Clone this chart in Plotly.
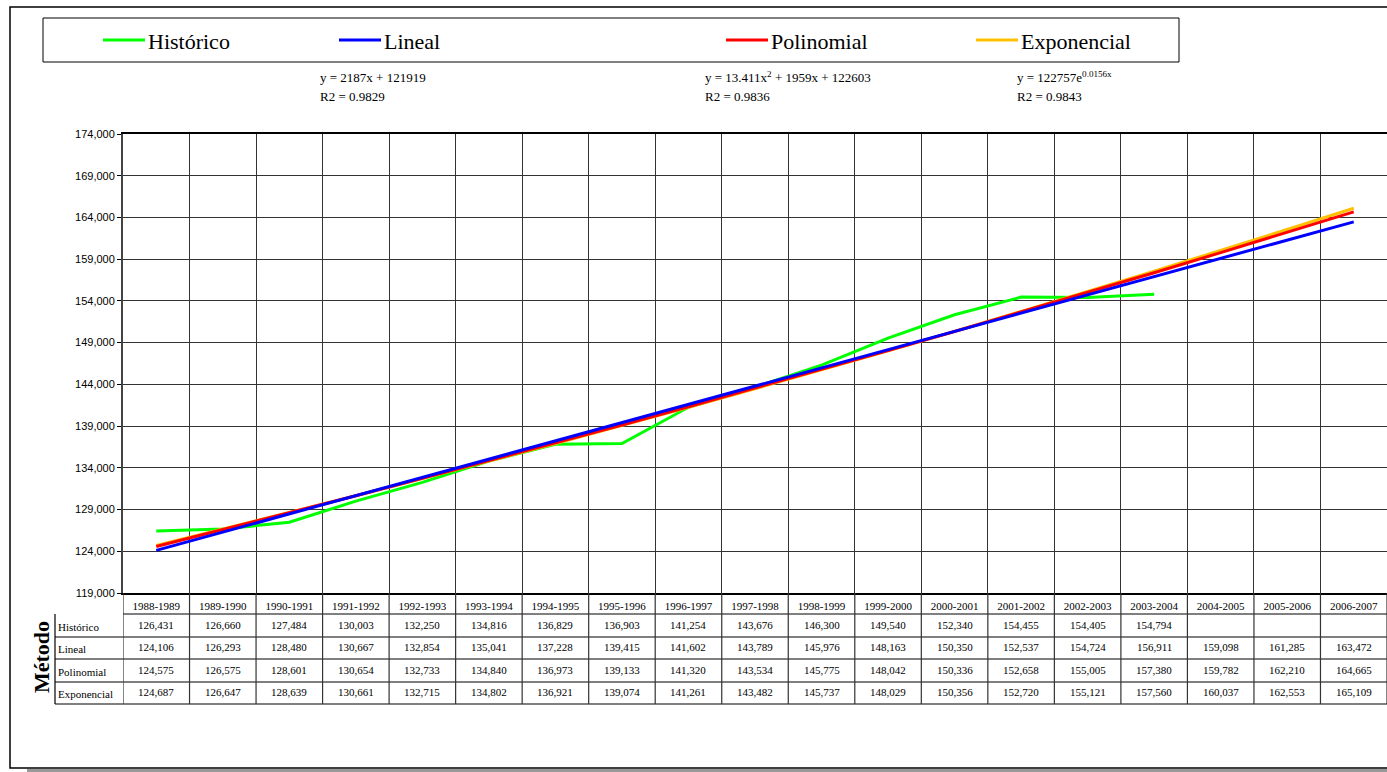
import plotly.graph_objects as go

# ---------------- data ----------------
categories = ["1988-1989", "1989-1990", "1990-1991", "1991-1992", "1992-1993", "1993-1994",
              "1994-1995", "1995-1996", "1996-1997", "1997-1998", "1998-1999", "1999-2000",
              "2000-2001", "2001-2002", "2002-2003", "2003-2004", "2004-2005", "2005-2006",
              "2006-2007"]
historico = [126431, 126660, 127484, 130003, 132250, 134816, 136829, 136903, 141254, 143676,
             146300, 149540, 152340, 154455, 154405, 154794]
lineal = [124106, 126293, 128480, 130667, 132854, 135041, 137228, 139415, 141602, 143789,
          145976, 148163, 150350, 152537, 154724, 156911, 159098, 161285, 163472]
polinomial = [124575, 126575, 128601, 130654, 132733, 134840, 136973, 139133, 141320, 143534,
              145775, 148042, 150336, 152658, 155005, 157380, 159782, 162210, 164665]
exponencial = [124687, 126647, 128639, 130661, 132715, 134802, 136921, 139074, 141261, 143482,
               145737, 148029, 150356, 152720, 155121, 157560, 160037, 162553, 165109]
series_names = ["Histórico", "Lineal", "Polinomial", "Exponencial"]
series_colors = ["#00FF00", "#0000FF", "#FF0000", "#FFC000"]
equations = [("y = 2187x + 121919", "R2 = 0.9829"),
             ("y = 13.411x<sup>2</sup> + 1959x + 122603", "R2 = 0.9836"),
             ("y = 122757e<sup>0.0156x</sup>", "R2 = 0.9843")]
y_min, y_max, y_step = 119000, 174000, 5000

# ---------------- geometry helpers (pixels -> paper) ----------------
W, H = 1387, 772
L, R, T, B = 123, 0, 134, 179
PW, PH = W - L - R, H - T - B
def px(x):
    return (x - L) / PW
def py(y):
    return (H - B - y) / PH

SERIF = "Liberation Serif"
SANS = "Liberation Sans"

fig = go.Figure()
all_series = [historico, lineal, polinomial, exponencial]
draw_order = [0, 3, 2, 1]
for i in draw_order:
    vals = all_series[i]
    fig.add_trace(go.Scatter(
        x=categories[:len(vals)], y=vals, mode="lines", name=series_names[i],
        line=dict(color=series_colors[i], width=3), showlegend=False,
        hoverinfo="x+y+name"))

shapes = []
annotations = []

# legend (frame, line samples and labels placed like the reference)
legend_line_px = [103, 339, 726, 976]
shapes.append(dict(type="rect", xref="paper", yref="paper", x0=px(43), x1=px(1179),
                   y0=py(62), y1=py(18), line=dict(color="black", width=1)))
for name, color, lx in zip(series_names, series_colors, legend_line_px):
    shapes.append(dict(type="line", xref="paper", yref="paper", x0=px(lx), x1=px(lx + 42),
                       y0=py(40), y1=py(40), line=dict(color=color, width=3)))
    annotations.append(dict(xref="paper", yref="paper", x=px(lx + 43), y=py(41), text=name,
                            showarrow=False, xanchor="left", yanchor="middle",
                            font=dict(family=SERIF, size=22, color="black")))

# outer chart frame + shadow
shapes.append(dict(type="rect", xref="paper", yref="paper", x0=px(10), x1=px(1395),
                   y0=py(768), y1=py(7), line=dict(color="black", width=1.5)))
shapes.append(dict(type="rect", xref="paper", yref="paper", x0=px(27), x1=px(1395),
                   y0=py(772), y1=py(769), line=dict(width=0), fillcolor="#999999"))

# data table lines
table_rows_px = [614, 637, 659, 682, 704]
shapes.append(dict(type="line", xref="paper", yref="paper", x0=0, x1=1,
                   y0=py(614), y1=py(614), line=dict(color="black", width=1)))
for yy in table_rows_px[1:]:
    shapes.append(dict(type="line", xref="paper", yref="paper", x0=px(55), x1=1,
                       y0=py(yy), y1=py(yy), line=dict(color="black", width=1.2)))
shapes.append(dict(type="line", xref="paper", yref="paper", x0=px(55), x1=px(55),
                   y0=py(614), y1=py(704), line=dict(color="black", width=1.2)))
for i in range(len(categories) + 1):
    shapes.append(dict(type="line", xref="x", yref="paper", x0=i - 0.5, x1=i - 0.5,
                       y0=0, y1=py(704), line=dict(color="#333333", width=1.2)))

# table values
row_centers = [625.5, 648, 670.5, 693]
for name, vals, yc in zip(series_names, all_series, row_centers):
    annotations.append(dict(xref="paper", yref="paper", x=px(56), y=py(yc + 1), text=name,
                            showarrow=False, xanchor="left", yanchor="middle",
                            font=dict(family=SERIF, size=11, color="black")))
    for c, v in zip(categories, vals):
        annotations.append(dict(xref="x", yref="paper", x=c, y=py(yc - 1), text=f"{v:,}",
                                showarrow=False, xanchor="center", yanchor="middle",
                                font=dict(family=SERIF, size=11, color="black")))
# row title
annotations.append(dict(xref="paper", yref="paper", x=px(41), y=py(657), text="<b>Método</b>",
                        textangle=-90, showarrow=False, xanchor="center", yanchor="middle",
                        font=dict(family=SERIF, size=22, color="black")))
# trend equations
eq_x = [320, 705, 1017]
for (e1, e2), ex in zip(equations, eq_x):
    annotations.append(dict(xref="paper", yref="paper", x=px(ex - 2), y=py(77), text=e1,
                            showarrow=False, xanchor="left", yanchor="middle",
                            font=dict(family=SERIF, size=13, color="black")))
    annotations.append(dict(xref="paper", yref="paper", x=px(ex - 2), y=py(97), text=e2,
                            showarrow=False, xanchor="left", yanchor="middle",
                            font=dict(family=SERIF, size=13, color="black")))

fig.update_layout(
    width=W, height=H, margin=dict(l=L, r=R, t=T, b=B, autoexpand=False),
    font=dict(family=SERIF, size=12, color="black"),
    paper_bgcolor="white", plot_bgcolor="white",
    showlegend=False, shapes=shapes, annotations=annotations,
    xaxis=dict(type="category", categoryorder="array", categoryarray=categories,
               range=[-0.5, len(categories) - 0.5], tickson="boundaries",
               showgrid=True, gridcolor="#333333", gridwidth=1.2,
               showline=True, linecolor="black", linewidth=2, mirror=True,
               ticks="", ticklabelstandoff=2,
               tickfont=dict(family=SERIF, size=11, color="black"), fixedrange=True),
    yaxis=dict(range=[y_min, y_max], tick0=y_min, dtick=y_step, tickformat=",d",
               showgrid=True, gridcolor="#333333", gridwidth=1.2, zeroline=False,
               showline=True, linecolor="#444444", linewidth=2,
               ticks="outside", ticklen=4, tickcolor="black",
               tickfont=dict(family=SANS, size=11, color="black"), fixedrange=True),
)

post = "document.body.style.margin='0';document.body.style.overflow='hidden';"
fig.write_html("out.html", config={"displayModeBar": False}, post_script=post)
